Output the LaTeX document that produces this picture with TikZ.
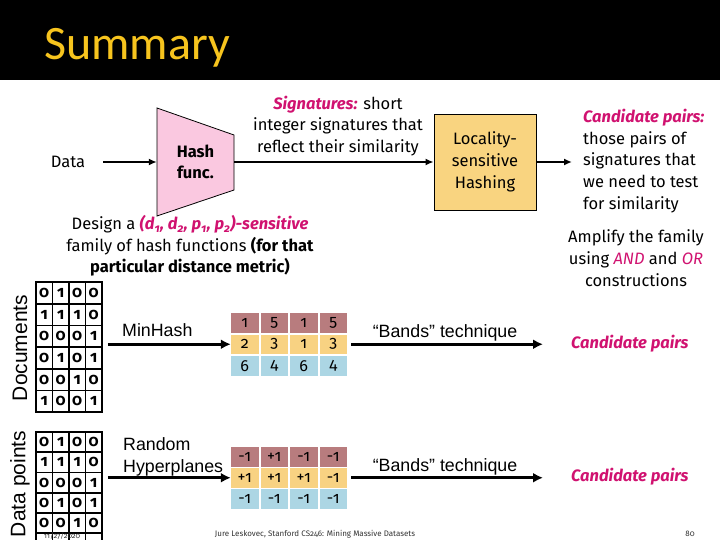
\documentclass[tikz,border=0pt]{standalone}
\usepackage{fontspec}
\setmainfont{Fira Sans}[Numbers=OldStyle]
\newfontfamily\titlefont{Carlito}
\newfontfamily\arialfont{Liberation Sans}
\usepackage{tikz}
\usetikzlibrary{arrows.meta,calc}
\usepackage{xcolor}
\definecolor{lskmag}{RGB}{208,18,112}
\definecolor{lskyel}{RGB}{247,196,30}
\definecolor{hashpink}{RGB}{250,200,224}
\definecolor{lshfill}{RGB}{249,212,128}
\definecolor{sigA}{RGB}{184,124,126}
\definecolor{sigB}{RGB}{248,210,130}
\definecolor{sigC}{RGB}{172,214,228}

\begin{document}
\begin{tikzpicture}[
  x=1pt, y=-1pt,
  txt/.style={font=\fontsize{16.5}{21.7}\selectfont, align=center, inner sep=0pt},
  arial/.style={font=\arialfont\fontsize{17.8}{22}\selectfont, inner sep=0pt},
  rowlab/.style={font=\arialfont\fontsize{21}{21}\selectfont, rotate=90, inner sep=0pt},
  bit/.style={draw, line width=1.8pt, minimum width=16.5pt, minimum height=21.7pt, inner sep=0pt, font=\fontsize{16}{16}\selectfont\bfseries},
  sigcell/.style={minimum width=27.5pt, minimum height=19.5pt, inner sep=0pt, font=\fontsize{16}{16}\selectfont},
  cand/.style={font=\fontsize{16.5}{16.5}\selectfont\bfseries\itshape, text=lskmag, inner sep=0pt},
  arr/.style={-{Latex[length=8pt,width=7pt]}, line width=1.8pt},
  bigarr/.style={-{Latex[length=10pt,width=10pt]}, line width=3.2pt}
]
  \useasboundingbox (0,0) rectangle (720,540);
  \clip (0,0) rectangle (720,540);

  % title bar
  \fill[black] (0,0) rectangle (720,80);
  \node[anchor=base west, inner sep=0pt, text=lskyel, font=\titlefont\fontsize{48}{48}\selectfont] (title) at (44,60) {Summary};

  % top row
  \node[txt] (data) at (68,162) {Data};
  \fill[hashpink] (157,108) -- (234,135) -- (234,190) -- (157,216) -- cycle;
  \draw[line width=0.8pt] (157,108) -- (234,135) -- (234,190) -- (157,216) -- cycle;
  \node[txt, font=\fontsize{16.5}{21.7}\selectfont\bfseries, minimum width=77pt, minimum height=108pt] (hash) at (195.5,162) {Hash\\func.};
  \node[txt] (sig) at (338,126) {\textcolor{lskmag}{\textbf{\textit{Signatures:}}} short\\integer signatures that\\reflect their similarity};
  \node[txt, draw, line width=0.8pt, fill=lshfill, minimum width=102pt, minimum height=96pt] (lsh) at (485,162) {Locality-\\sensitive\\Hashing};
  \node[txt, align=left, anchor=west] (pairs) at (583,161) {\textcolor{lskmag}{\textbf{\textit{Candidate pairs:}}}\\those pairs of\\signatures that\\we need to test\\for similarity};

  \draw[arr, shorten <=18pt] (data) -- (hash);
  \draw[arr] (hash) -- (lsh);
  \draw[arr, shorten >=11pt] (lsh) -- (pairs.west |- lsh.east);

  \node[txt] (design) at (190,246) {Design a \textcolor{lskmag}{\textbf{\textit{(d\textsubscript{1}, d\textsubscript{2}, p\textsubscript{1}, p\textsubscript{2})-sensitive}}}\\family of hash functions \textbf{(for that}\\\textbf{particular distance metric)}};
  \node[txt] (amplify) at (636,258) {Amplify the family\\using \textit{\textcolor{lskmag}{AND}} and \textit{\textcolor{lskmag}{OR}}\\constructions};

  % documents row
  \node[rowlab] (doclab) at (20,348) {Documents};
  \foreach \vals [count=\r] in {{0,1,0,0},{1,1,1,0},{0,0,0,1},{0,1,0,1},{0,0,1,0},{1,0,0,1}}
    \foreach \v [count=\c] in \vals
      \node[bit] (doc-\r-\c) at ({36+16.5*(\c-0.5)},{282+21.7*(\r-0.5)}) {\v};
  \foreach \vals/\col [count=\r] in {{1,5,1,5}/sigA,{2,3,1,3}/sigB,{6,4,6,4}/sigC}
    \foreach \v [count=\c] in \vals
      \node[sigcell, fill=\col] (mh-\r-\c) at ({231+29.5*(\c-1)+13.75},{313+21.5*(\r-1)+9.75}) {\v};
  \node[arial, anchor=west] (minhash) at (122,330) {MinHash};
  \node[arial] (bands1) at (445,333) {“Bands” technique};
  \node[cand, anchor=west] (cand1) at (571,344) {Candidate pairs};
  \draw[bigarr, shorten <=5pt] (doc-3-4.east |- mh-2-1.west) -- (mh-2-1.west);
  \draw[bigarr, shorten <=4pt, shorten >=28pt] (mh-2-4.east) -- (cand1.west |- mh-2-4.east);

  % data points row
  \node[rowlab] (ptlab) at (20,484) {Data points};
  \foreach \vals [count=\r] in {{0,1,0,0},{1,1,1,0},{0,0,0,1},{0,1,0,1},{0,0,1,0},{,,,}}
    \foreach \v [count=\c] in \vals
      \node[bit, minimum height=20.2pt] (pt-\r-\c) at ({36+16.5*(\c-0.5)},{432+20.2*(\r-0.5)}) {\v};
  \foreach \vals/\col [count=\r] in {{-1,+1,-1,-1}/sigA,{+1,+1,+1,-1}/sigB,{-1,-1,-1,-1}/sigC}
    \foreach \v [count=\c] in \vals
      \node[sigcell, fill=\col] (rh-\r-\c) at ({231+29.5*(\c-1)+13.75},{447+21*(\r-1)+9.75}) {\v};
  \node[arial, anchor=west, align=left] (hyper) at (123,457) {Random\\Hyperplanes};
  \node[arial] (bands2) at (445,467) {“Bands” technique};
  \node[cand, anchor=west] (cand2) at (571,477) {Candidate pairs};
  \draw[bigarr, shorten <=5pt] (pt-3-4.east |- rh-2-1.west) -- (rh-2-1.west);
  \draw[bigarr, shorten <=4pt, shorten >=28pt] (rh-2-4.east) -- (cand2.west |- rh-2-4.east);

  % footer
  \node[inner sep=0pt, font=\fontsize{7.5}{7.5}\selectfont, text=black!80] (date) at (62,536) {11/27/2020};
  \node[inner sep=0pt, font=\fontsize{8}{8}\selectfont, text=black!80] (credit) at (315,534) {Jure Leskovec, Stanford CS246: Mining Massive Datasets};
  \node[inner sep=0pt, font=\fontsize{8}{8}\selectfont, text=black!80] (page) at (690,534) {80};
\end{tikzpicture}
\end{document}
